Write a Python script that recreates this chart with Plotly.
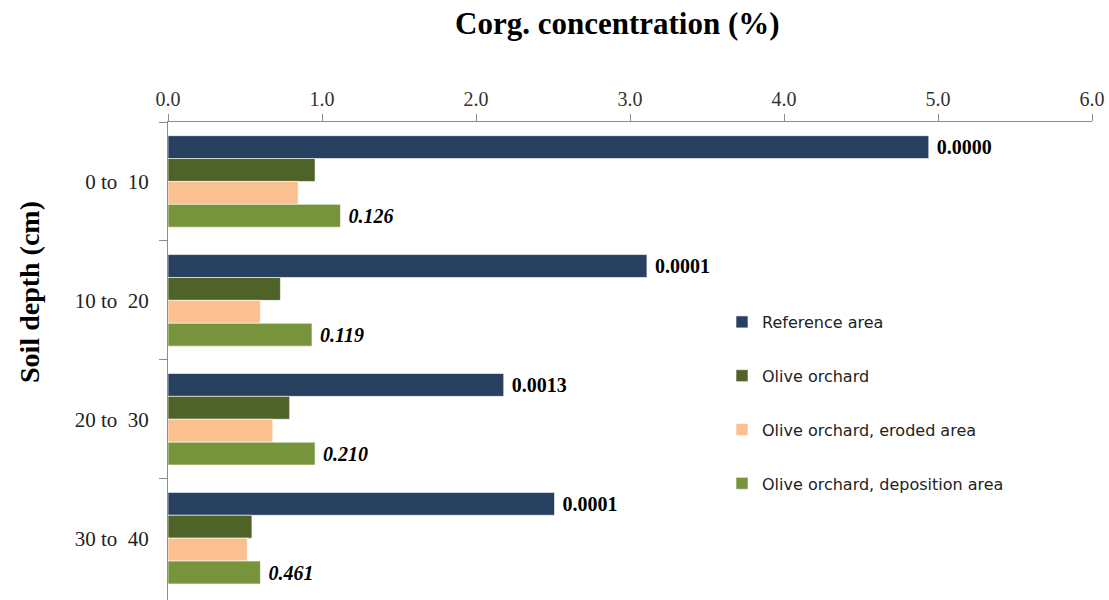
import plotly.graph_objects as go

categories = ["0 to  10", "10 to  20", "20 to  30", "30 to  40"]
series_names = ["Reference area", "Olive orchard", "Olive orchard, eroded area", "Olive orchard, deposition area"]
reference_area = [4.94, 3.11, 2.18, 2.51]
olive_orchard = [0.955, 0.73, 0.79, 0.545]
olive_eroded = [0.845, 0.60, 0.68, 0.515]
olive_deposition = [1.12, 0.935, 0.955, 0.60]
reference_labels = ["0.0000", "0.0001", "0.0013", "0.0001"]
deposition_labels = ["0.126", "0.119", "0.210", "0.461"]
x_ticks = [0, 1, 2, 3, 4, 5, 6]
x_tick_labels = ["0.0", "1.0", "2.0", "3.0", "4.0", "5.0", "6.0"]

colors = ["#27405F", "#4F6228", "#FAC090", "#77933C"]
values = [reference_area, olive_orchard, olive_eroded, olive_deposition]
labels = [reference_labels, None, None, deposition_labels]
templates = ["\u00a0<b>%{text}</b>", None, None, "\u00a0<b><i>%{text}</i></b>"]

serif = "Liberation Serif, Times New Roman, serif"

W, H = 1109, 600
L, T, R = 168, 122, 17
PW, PH = W - L - R, H - T

fig = go.Figure()
for name, vals, col, lab, tpl in zip(series_names, values, colors, labels, templates):
    kw = {}
    if lab is not None:
        kw = dict(text=lab, texttemplate=tpl, textposition="outside", cliponaxis=False,
                  textfont=dict(family=serif, size=20, color="#000000"))
    fig.add_trace(go.Bar(
        name=name, y=categories, x=vals, orientation="h",
        marker=dict(color=col, line=dict(color="rgba(255,255,255,0.6)", width=1)),
        legendgroup=name, **kw))

fig.update_layout(
    width=W, height=H,
    barmode="group", bargap=0.23, bargroupgap=0,
    plot_bgcolor="white", paper_bgcolor="white",
    margin=dict(l=L, r=R, t=T, b=0, autoexpand=False),
    font=dict(family=serif, color="#000000", size=16),
    legend=dict(x=(722 - L) / PW, y=1 - (305 - T) / PH, xanchor="left", yanchor="top",
                font=dict(family="DejaVu Sans, Verdana, sans-serif", size=16, color="#222222"),
                bgcolor="rgba(0,0,0,0)", tracegroupgap=30, itemwidth=30),
    annotations=[
        dict(text="<b>Corg. concentration (%)</b>", xref="paper", yref="paper",
             x=(617 - L) / PW, y=1, yshift=T - 23, xanchor="center", yanchor="middle",
             showarrow=False, font=dict(family=serif, size=31, color="#000000")),
        dict(text="<b>Soil depth (cm)</b>", xref="paper", yref="paper",
             x=(29 - L) / PW, y=1 - (292 - T) / PH, xanchor="center", yanchor="middle",
             textangle=-90, showarrow=False, font=dict(family=serif, size=28, color="#000000")),
    ],
)
fig.update_xaxes(
    side="top", range=[0, 6], tickvals=x_ticks, ticktext=x_tick_labels,
    showgrid=False, zeroline=False, showline=True, linecolor="#8C8C8C", linewidth=1,
    ticks="outside", ticklen=7, tickcolor="#8C8C8C",
    tickfont=dict(family=serif, size=20, color="#333333"),
)
fig.update_yaxes(
    categoryorder="array", categoryarray=categories, autorange=False, range=[3.52, -0.5],
    tickson="boundaries", showgrid=False, zeroline=False, showline=True,
    linecolor="#8C8C8C", linewidth=1, ticks="outside", ticklen=8, tickcolor="#8C8C8C",
    tickfont=dict(family=serif, size=21, color="#222222"), ticklabelstandoff=14,
)

fig.write_html("out.html", config={"displayModeBar": False},
               post_script="document.body.style.margin='0';")
